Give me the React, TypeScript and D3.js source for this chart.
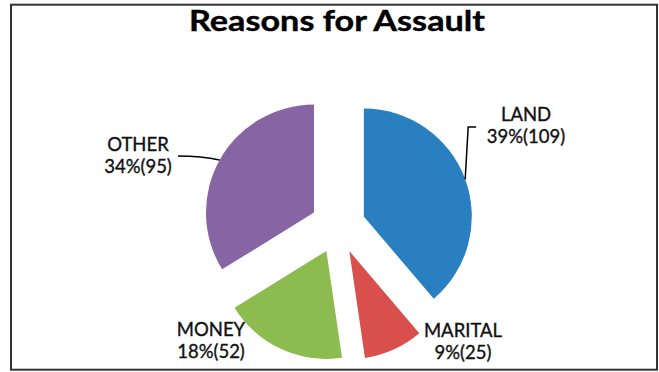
import React from "react";
import * as d3 from "d3";

const categories = ["LAND", "MARITAL", "MONEY", "OTHER"];
const values = [109, 25, 52, 95];
const percentLabels = ["39%", "9%", "18%", "34%"];
const colors = ["#2a7fc1", "#d94f4b", "#8cbb4f", "#8764a3"];
const title = "Reasons for Assault";

const W = 659;
const H = 372;
const cx = 338;
const cy = 226;
const R = 108;
const explode = 27.5;

// label placement (center x, first baseline)
const labelPos: Record<string, [number, number]> = {
  LAND: [526, 121],
  MARITAL: [463, 337],
  MONEY: [211, 336],
  OTHER: [138, 151],
};

export default function App() {
  const pie = d3
    .pie<number>()
    .sort(null)
    .startAngle(0)
    .endAngle(2 * Math.PI)
    .value((d) => d);
  const arcs = pie(values);
  const arcGen = d3.arc<d3.PieArcDatum<number>>().innerRadius(0).outerRadius(R);

  return (
    <svg
      width={W}
      height={H}
      style={{ position: "absolute", left: 0, top: 0, background: "#fff" }}
      fontFamily="Lato, 'Open Sans', sans-serif"
    >
      <rect x={0} y={0} width={W} height={H} fill="#fff" />
      <rect x={11} y={4.7} width={646} height={365} fill="none" stroke="#333" strokeWidth={2} />
      <text
        x={337}
        y={31}
        textAnchor="middle"
        fontSize={29}
        fontWeight={700}
        fill="#000"
        stroke="#000"
        strokeWidth={0.4}
        textLength={296}
        lengthAdjust="spacingAndGlyphs"
      >
        {title}
      </text>
      {arcs.map((a, i) => {
        const mid = (a.startAngle + a.endAngle) / 2;
        const dx = Math.sin(mid) * explode;
        const dy = -Math.cos(mid) * explode;
        const ox = cx + dx;
        const oy = cy + dy;
        const cat = categories[i];
        const [lx, ly] = labelPos[cat];
        let leader: string | null = null;
        const ex = ox + Math.sin(mid) * R;
        const ey = oy - Math.cos(mid) * R;
        if (cat === "LAND") {
          leader = `M${ex},${ey} L${ex + 3},${ly + 6} L${ex + 11},${ly + 6}`;
        } else if (cat === "OTHER") {
          leader = `M${ex},${ey} Q${ex - 18},${ey - 4} ${lx + 40},${ly + 5}`;
        }
        return (
          <g key={cat}>
            <path d={arcGen(a) || ""} transform={`translate(${ox},${oy})`} fill={colors[i]} />
            {leader && <path d={leader} fill="none" stroke="#000" strokeWidth={1.5} />}
            <text x={lx} y={ly} textAnchor="middle" fontSize={18.5} fill="#111" stroke="#111" strokeWidth={0.35}>
              {cat}
            </text>
            <text x={lx} y={ly + 22} textAnchor="middle" fontSize={18.5} fill="#111" stroke="#111" strokeWidth={0.35}>
              {`${percentLabels[i]}(${values[i]})`}
            </text>
          </g>
        );
      })}
    </svg>
  );
}
